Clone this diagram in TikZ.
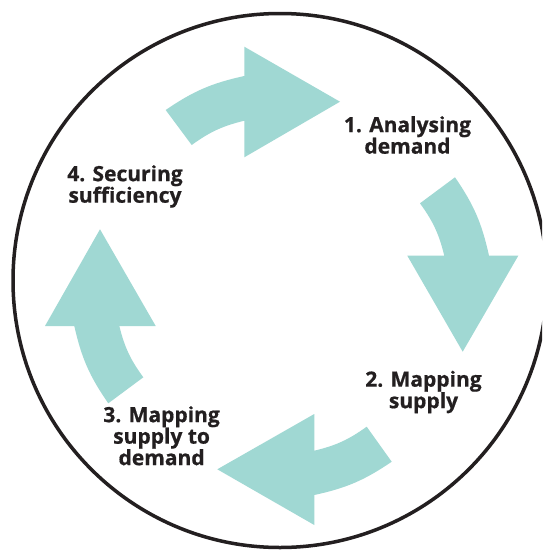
\documentclass[tikz,border=0pt]{standalone}
\usepackage{fontspec}
\newfontfamily\lblfont{Open Sans}[BoldFeatures={FakeBold=0.6}]
\definecolor{tealfill}{RGB}{160,216,211}
\definecolor{inkdark}{RGB}{35,31,32}
\tikzset{
  arrowfill/.style={fill=tealfill, draw=none},
  stagelabel/.style={anchor=north, inner sep=0pt, align=center, text=inkdark,
    font={\lblfont\bfseries\fontsize{21}{21.5}\selectfont}},
}
\begin{document}
\begin{tikzpicture}[x=1pt,y=-1pt]
\useasboundingbox (0,0) rectangle (542,552);
\clip (0,0) rectangle (542,552);
\fill[white] (0,0) rectangle (542,552);
% outer circle
\draw[inkdark, line width=3.5pt] (280,280.5) circle[radius=267];
% top arrow
\fill[arrowfill] (165.7,110) to[bend left=11] (244.3,76) -- (244.3,46.7) -- (340,101.7)
  -- (244.3,157.3) -- (244.3,120.7) to[bend right=11] (191.7,145) -- cycle;
% right arrow
\fill[arrowfill] (455,177.3) to[bend left=11] (489,255.7) -- (518.3,255.7) -- (462.7,351.7)
  -- (407.3,255.7) -- (444.3,255.7) to[bend right=11] (420,203.3) -- cycle;
% bottom arrow
\fill[arrowfill] (391.7,461.7) to[bend left=11] (314.3,495) -- (314.3,525) -- (217.3,469.3)
  -- (314.3,414) -- (314.3,450.7) to[bend right=11] (366.7,426.7) -- cycle;
% left arrow
\fill[arrowfill] (108.3,403.3) to[bend left=11] (74.3,326) -- (45,326) -- (100,229.3)
  -- (155.7,326) -- (119.3,326) to[bend right=11] (143.3,377.3) -- cycle;
% labels
\node[stagelabel] (s1) at (407.5,116) {1. Analysing\\demand};
\node[stagelabel] (s2) at (423.5,370.5) {2. Mapping\\supply};
\node[stagelabel] (s3) at (161.6,406) {3. Mapping\\supply to\\demand};
\node[stagelabel] (s4) at (125,165) {4. Securing\\sufficiency};
\end{tikzpicture}
\end{document}
